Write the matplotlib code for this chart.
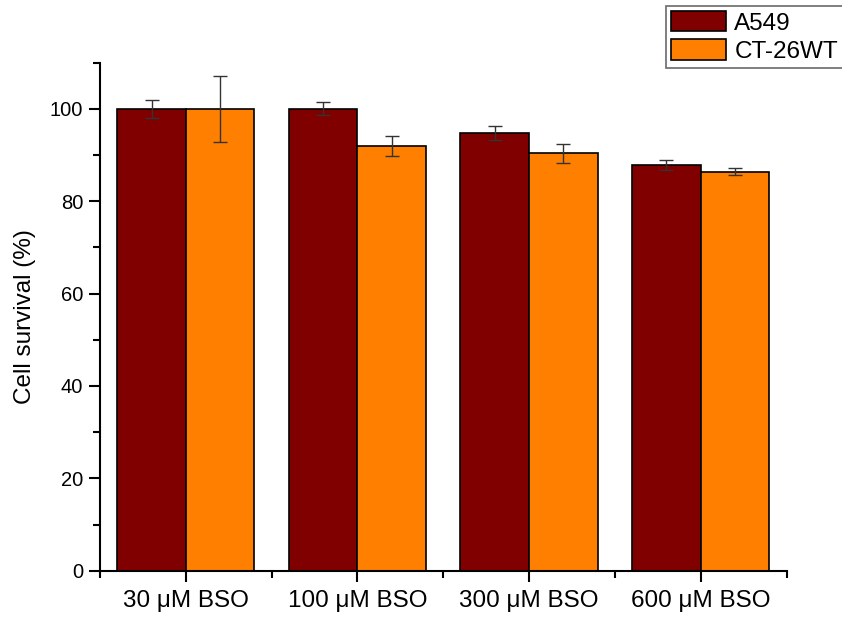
import matplotlib
matplotlib.use("Agg")
import matplotlib.pyplot as plt
from matplotlib.ticker import MultipleLocator, FixedLocator
import numpy as np

plt.rcParams['font.family'] = ['Liberation Sans', 'DejaVu Sans']

categories = ["30 μM BSO", "100 μM BSO", "300 μM BSO", "600 μM BSO"]
series_names = ["A549", "CT-26WT"]
a549_mean = [100.0, 100.0, 94.7, 87.9]
a549_err = [2.0, 1.4, 1.5, 1.1]
ct26_mean = [100.0, 91.9, 90.4, 86.4]
ct26_err = [7.1, 2.2, 2.1, 0.7]

colors = ["#800000", "#FF8000"]

fig = plt.figure(figsize=(8.42, 6.23), dpi=100)
ax = fig.add_axes([0.1188, 0.0839, 0.9341 - 0.1188, 0.8994 - 0.0839])

x = np.arange(1, len(categories) + 1)
w = 0.4
err_kw = dict(ecolor="#333333", elinewidth=1.0, capsize=5, capthick=1.0)
ax.bar(x - w / 2, a549_mean, w, yerr=a549_err, color=colors[0],
       edgecolor="black", linewidth=1.2, label=series_names[0], error_kw=err_kw)
ax.bar(x + w / 2, ct26_mean, w, yerr=ct26_err, color=colors[1],
       edgecolor="black", linewidth=1.2, label=series_names[1], error_kw=err_kw)

ax.set_xlim(0.5, len(categories) + 0.5)
ax.set_ylim(0, 110)

ax.xaxis.set_major_locator(FixedLocator(x))
ax.xaxis.set_minor_locator(FixedLocator(np.arange(0.5, len(categories) + 1, 1.0)))
ax.set_xticklabels(categories)
ax.yaxis.set_major_locator(FixedLocator([0, 20, 40, 60, 80, 100]))
ax.yaxis.set_minor_locator(MultipleLocator(10))

for s in ["top", "right"]:
    ax.spines[s].set_visible(False)
for s in ["left", "bottom"]:
    ax.spines[s].set_linewidth(1.5)

ax.tick_params(axis="both", which="major", direction="out", length=8, width=1.5)
ax.tick_params(axis="both", which="minor", direction="out", length=5, width=1.5)
ax.tick_params(axis="x", which="major", labelsize=17.5, pad=6)
ax.tick_params(axis="y", which="major", labelsize=14.5, pad=4)

ax.set_ylabel("Cell survival (%)", fontsize=17.5, labelpad=10)

leg = fig.legend(loc="upper right", bbox_to_anchor=(1.001, 0.99),
                 fontsize=17.5, frameon=True, fancybox=False,
                 handlelength=2.25, handleheight=0.9, handletextpad=0.35,
                 borderpad=0.2, labelspacing=0.2, borderaxespad=0)
leg.get_frame().set_edgecolor("#444444")
leg.get_frame().set_linewidth(1.2)

fig.savefig("out.png", dpi=100)
